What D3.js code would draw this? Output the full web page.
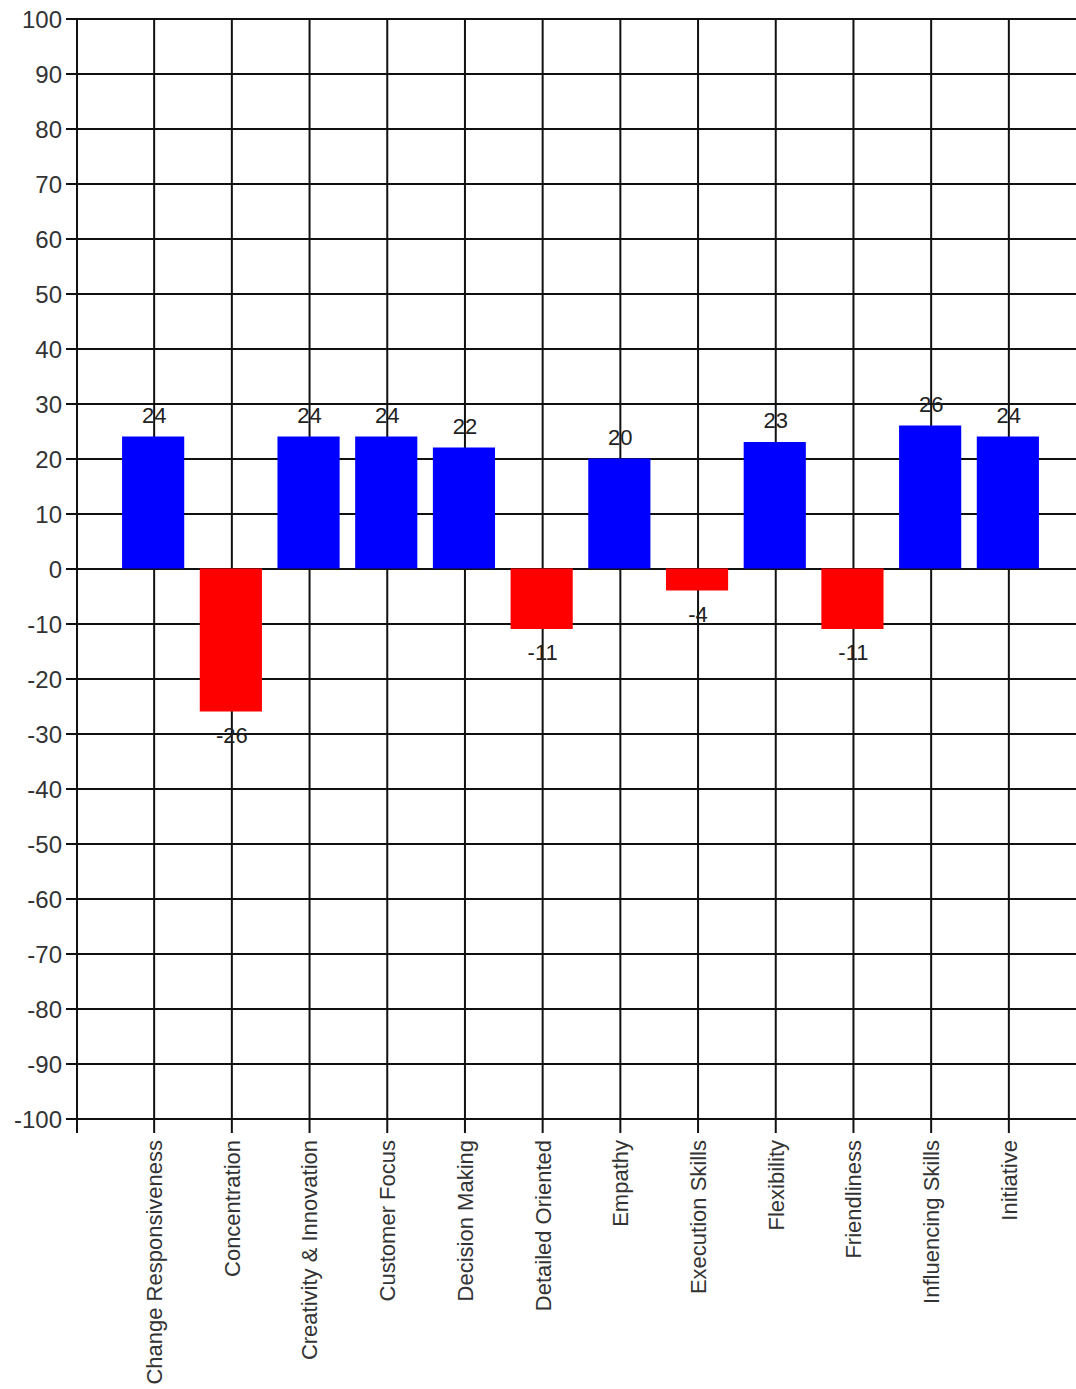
<!DOCTYPE html>
<html>
<head>
<meta charset="utf-8">
<script src="https://cdn.jsdelivr.net/npm/d3@7"></script>
<style>
  body { margin: 0; background: #fff; }
  svg { display: block; font-family: "Liberation Sans", Arial, sans-serif; }
</style>
</head>
<body>
<div id="chart"></div>
<script>
const categories = [
    'Change Responsiveness', 'Concentration', 'Creativity & Innovation',
    'Customer Focus', 'Decision Making', 'Detailed Oriented', 'Empathy',
    'Execution Skills', 'Flexibility', 'Friendliness', 'Influencing Skills',
    'Initiative'
];
const scores = [24, -26, 24, 24, 22, -11, 20, -4, 23, -11, 26, 24];
const yTicks = [100, 90, 80, 70, 60, 50, 40, 30, 20, 10, 0,
    -10, -20, -30, -40, -50, -60, -70, -80, -90, -100];

const config = {
    width: 1076,
    height: 1389,
    top: 18.5,
    bottom: 1118.5,
    left: 77,
    tickLeft: 66,
    gridBottom: 1133
};

const data = categories.map((c, i) => ({ name: c, value: scores[i] }));

const svg = d3.select('#chart').append('svg')
    .attr('width', config.width)
    .attr('height', config.height);

const y = d3.scaleLinear()
    .domain([-100, 100])
    .range([config.bottom, config.top]);

const x = d3.scaleBand()
    .domain(categories)
    .range([115.3, 1047.7])
    .paddingInner(0.2)
    .paddingOuter(0.1);

const center = d => x(d) + x.bandwidth() / 2;

// y axis with horizontal grid
const yAxis = svg.append('g')
    .attr('transform', 'translate(' + config.tickLeft + ',0)')
    .call(d3.axisLeft(y)
        .tickValues(yTicks)
        .tickFormat(d => String(d))
        .tickSize(-(config.width - config.tickLeft))
        .tickPadding(4));
yAxis.select('.domain').remove();
yAxis.selectAll('line').attr('stroke', '#111').attr('stroke-width', 2);
yAxis.selectAll('text')
    .attr('fill', '#333')
    .attr('font-size', 24)
    .attr('dy', '0.36em');

// x axis with vertical grid
const xAxis = svg.append('g')
    .attr('transform', 'translate(0,' + config.gridBottom + ')')
    .call(d3.axisBottom(x)
        .tickSize(-(config.gridBottom - config.top)));
xAxis.select('.domain').remove();
xAxis.selectAll('line').attr('stroke', '#111').attr('stroke-width', 2);
xAxis.selectAll('text')
    .attr('fill', '#333')
    .attr('font-size', 22)
    .attr('transform', 'rotate(-90)')
    .attr('text-anchor', 'end')
    .attr('x', -7)
    .attr('y', 0)
    .attr('dy', '0.36em');

// left axis line
svg.append('line')
    .attr('x1', config.left).attr('x2', config.left)
    .attr('y1', config.top).attr('y2', config.gridBottom)
    .attr('stroke', '#111').attr('stroke-width', 2);

// bars
svg.selectAll('rect.bar')
        .data(data)
    .enter().append('rect')
        .attr('class', 'bar')
        .attr('x', d => x(d.name) - 1)
        .attr('width', x.bandwidth())
        .attr('y', d => y(Math.max(0, d.value)))
        .attr('height', d => Math.abs(y(d.value) - y(0)))
        .attr('fill', d => d.value >= 0 ? '#0000ff' : '#ff0000');

// value labels
svg.selectAll('text.value')
        .data(data)
    .enter().append('text')
        .attr('class', 'value')
        .attr('x', d => center(d.name))
        .attr('y', d => d.value >= 0 ? y(d.value) - 14 : y(d.value) + 31)
        .attr('text-anchor', 'middle')
        .attr('font-size', 22)
        .attr('fill', '#222')
        .text(d => d.value);
</script>
</body>
</html>
